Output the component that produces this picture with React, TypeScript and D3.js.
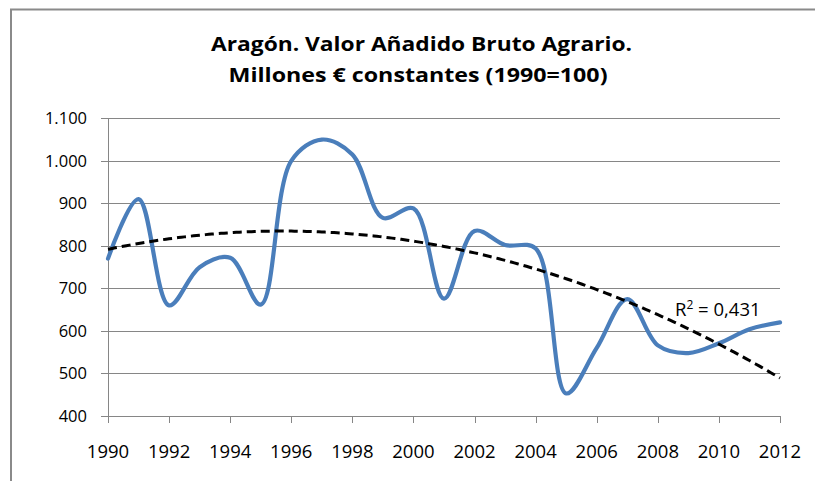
import React from "react";
import * as d3 from "d3";

const years: number[] = [1990, 1991, 1992, 1993, 1994, 1995, 1996, 1997, 1998, 1999, 2000, 2001, 2002, 2003, 2004, 2005, 2006, 2007, 2008, 2009, 2010, 2011, 2012];
const values: number[] = [770, 910, 660, 750, 772, 662, 1000, 1050, 1015, 866, 888, 676, 835, 802, 794, 453, 560, 675, 566, 548, 571, 604, 620];
const yTicks: number[] = [400, 500, 600, 700, 800, 900, 1000, 1100];
const xTicks: number[] = [1990, 1992, 1994, 1996, 1998, 2000, 2002, 2004, 2006, 2008, 2010, 2012];
const titleLines: string[] = ["Aragón. Valor Añadido Bruto Agrario.", "Millones € constantes (1990=100)"];
const r2Label = "0,431";

// quadratic least squares fit
function polyFit2(xs: number[], ys: number[]): [number, number, number] {
  const n = xs.length;
  const x0 = xs[0];
  let s0 = n, s1 = 0, s2 = 0, s3 = 0, s4 = 0, t0 = 0, t1 = 0, t2 = 0;
  xs.forEach((xv, i) => {
    const x = xv - x0;
    const y = ys[i];
    s1 += x; s2 += x * x; s3 += x * x * x; s4 += x * x * x * x;
    t0 += y; t1 += x * y; t2 += x * x * y;
  });
  const M = [
    [s0, s1, s2, t0],
    [s1, s2, s3, t1],
    [s2, s3, s4, t2],
  ];
  for (let c = 0; c < 3; c++) {
    for (let r = c + 1; r < 3; r++) {
      const f = M[r][c] / M[c][c];
      for (let k = c; k < 4; k++) M[r][k] -= f * M[c][k];
    }
  }
  const sol = [0, 0, 0];
  for (let r = 2; r >= 0; r--) {
    let s = M[r][3];
    for (let k = r + 1; k < 3; k++) s -= M[r][k] * sol[k];
    sol[r] = s / M[r][r];
  }
  return [sol[0], sol[1], sol[2]];
}

export default function App() {
  const W = 815, H = 481;
  const left = 108, right = 780, top = 118.3, bottom = 416;
  const x = d3.scaleLinear().domain([1990, 2012]).range([left, right]);
  const y = d3.scaleLinear().domain([400, 1100]).range([bottom, top]);

  const pts: [number, number][] = years.map((yr, i) => [x(yr), y(values[i])]);
  const line = d3.line().curve(d3.curveCatmullRom.alpha(0.5));
  const path = line(pts) || "";

  const [a, b, c] = polyFit2(years, values);
  const trendYears = d3.range(1990, 2012.001, 0.1);
  const trendPts: [number, number][] = trendYears.map((t) => {
    const u = t - 1990;
    return [x(t), y(a + b * u + c * u * u)];
  });
  const trendPath = d3.line()(trendPts) || "";

  const grid = "#868686";
  const font = "'Open Sans', 'DejaVu Sans', sans-serif";

  return (
    <div style={{ position: "fixed", left: 0, top: 0, width: W, height: H, background: "#fff" }}>
      <svg width={W} height={H} style={{ display: "block" }}>
        <rect x={0} y={0} width={W} height={H} fill="#fff" />
        {/* frame */}
        <line x1={10} y1={9.5} x2={W} y2={9.5} stroke="#8a8a8a" strokeWidth={2} />
        <line x1={11} y1={9} x2={11} y2={H} stroke="#8a8a8a" strokeWidth={2} />

        {/* title */}
        <text x={421.5} y={51} textAnchor="middle" fontFamily={font} fontWeight="bold" fontSize={19.5} fill="#000" textLength={421} lengthAdjust="spacingAndGlyphs">
          {titleLines[0]}
        </text>
        <text x={418} y={82} textAnchor="middle" fontFamily={font} fontWeight="bold" fontSize={19.5} fill="#000" textLength={379} lengthAdjust="spacingAndGlyphs">
          {titleLines[1]}
        </text>

        {/* gridlines and y ticks */}
        {yTicks.map((t) => (
          <g key={t}>
            <line x1={left - 7} x2={right} y1={Math.round(y(t)) + 0.5} y2={Math.round(y(t)) + 0.5} stroke={grid} strokeWidth={1} />
            <text x={87} y={y(t) + 6} textAnchor="end" fontFamily={font} fontSize={16.5} fill="#000">
              {d3.format(",")(t).replace(/,/g, ".")}
            </text>
          </g>
        ))}
        {/* y axis */}
        <line x1={left + 0.5} x2={left + 0.5} y1={top} y2={bottom + 7} stroke={grid} strokeWidth={1} />
        {/* x ticks */}
        {xTicks.map((t) => (
          <g key={t}>
            <line x1={Math.round(x(t)) + 0.5} x2={Math.round(x(t)) + 0.5} y1={bottom} y2={bottom + 7} stroke={grid} strokeWidth={1} />
            <text x={x(t)} y={458} textAnchor="middle" fontFamily={font} fontSize={18.5} fill="#000">
              {t}
            </text>
          </g>
        ))}

        {/* data line */}
        <path d={path} fill="none" stroke="#4a7ebb" strokeWidth={4.2} strokeLinejoin="round" strokeLinecap="round" />
        {/* trend line */}
        <path d={trendPath} fill="none" stroke="#000" strokeWidth={3} strokeDasharray="9 5" />

        {/* R² label */}
        <text x={675} y={316} fontFamily={font} fontSize={18.5} fill="#000">
          R<tspan dy={-7} fontSize={12}>2</tspan><tspan dy={7}>{" = " + r2Label}</tspan>
        </text>
      </svg>
    </div>
  );
}
